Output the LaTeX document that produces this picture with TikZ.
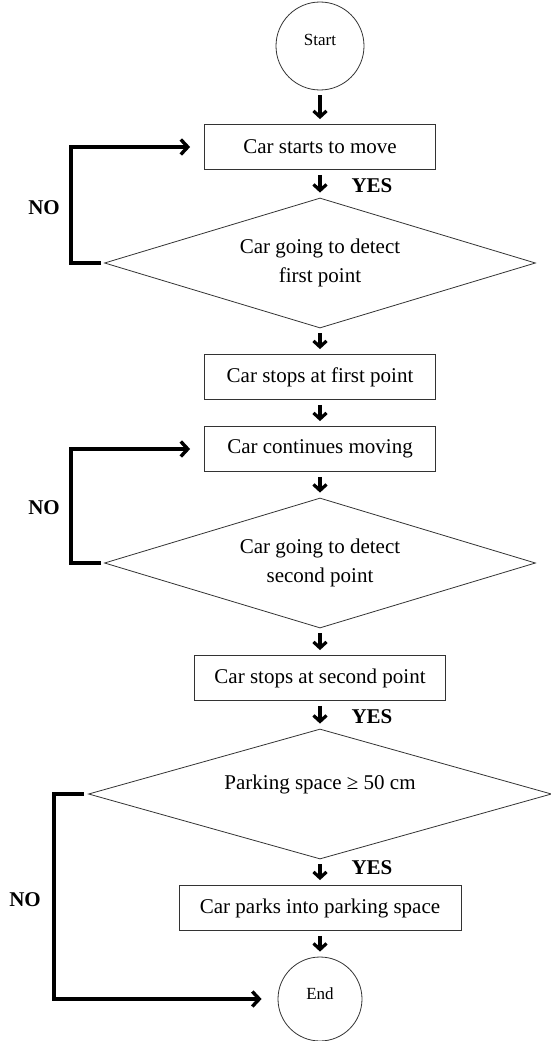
\documentclass[tikz,border=0pt]{standalone}
\usepackage{fontspec}
\setmainfont{Liberation Serif}
\usetikzlibrary{shapes.geometric,arrows.meta}
\tikzset{
  procbox/.style={
    draw=black!80,
    line width=0.8pt,
    minimum height=45pt,
    inner sep=0pt,
    font=\fontsize{21}{25}\selectfont
  },
  decision/.style={
    shape=diamond,
    draw=black!80,
    line width=0.8pt,
    shape aspect=3.3,
    minimum width=431pt,
    minimum height=130pt,
    inner sep=0pt,
    align=center,
    font=\fontsize{21}{29}\selectfont
  },
  terminal/.style={
    shape=circle,
    draw=black!80,
    line width=0.8pt,
    inner sep=0pt,
    text height=12pt,
    text depth=12pt,
    font=\fontsize{17}{20}\selectfont
  },
  flow/.style={
    line width=3.2pt,
    -{Straight Barb[length=6pt,width=13pt]},
    shorten <=5pt,
    shorten >=5pt
  },
  noloop/.style={
    line width=3.4pt,
    -{Straight Barb[length=7pt,width=15pt]}
  },
  answer/.style={
    inner sep=0pt,
    font=\fontsize{21}{25}\selectfont\bfseries
  }
}
\begin{document}
\begin{tikzpicture}[x=1pt,y=1pt]
        \useasboundingbox (0,0) rectangle (551,-1041);
        \node[terminal, minimum size=88pt] (start) at (320,-46) {Start};
        \node[procbox, minimum width=231pt] (move) at (320,-147) {Car starts to move};
        \node[decision] (detect1) at (320,-263) {Car going to detect\\first point};
        \node[procbox, minimum width=231pt] (stop1) at (320,-377) {Car stops at first point};
        \node[procbox, minimum width=231pt] (cont) at (320,-449) {Car continues moving};
        \node[decision] (detect2) at (320,-563) {Car going to detect\\second point};
        \node[procbox, minimum width=251pt] (stop2) at (320,-678) {Car stops at second point};
        \node[decision, minimum width=463pt, text height=14pt, text depth=24pt] (space) at (320,-794) {Parking space ≥ 50 cm};
        \node[procbox, minimum width=282pt] (park) at (320,-908) {Car parks into parking space};
        \node[terminal, minimum size=84pt] (end) at (320,-999) {End};
        %
        \draw[flow] (start) -- (move);
        \draw[flow] (move) -- (detect1);
        \draw[flow] (detect1) -- (stop1);
        \draw[flow] (stop1) -- (cont);
        \draw[flow] (cont) -- (detect2);
        \draw[flow] (detect2) -- (stop2);
        \draw[flow] (stop2) -- (space);
        \draw[flow] (space) -- (park);
        \draw[flow] (park) -- (end);
        %
        \draw[noloop] ([xshift=-3pt]detect1.west) -- ++(-30,0) |- ([xshift=-14pt]move.west);
        \draw[noloop] ([xshift=-3pt]detect2.west) -- ++(-30,0) |- ([xshift=-14pt]cont.west);
        \draw[noloop] ([xshift=-4pt]space.west) -- ++(-30,0) |- ([xshift=-16pt]end.west);
        %
        \node[answer] (yes1) at (372,-186) {YES};
        \node[answer] (yes2) at (372,-717) {YES};
        \node[answer] (yes3) at (372,-868) {YES};
        \node[answer] (no1) at (44,-208) {NO};
        \node[answer] (no2) at (44,-508) {NO};
        \node[answer] (no3) at (25,-900) {NO};
    \end{tikzpicture}
\end{document}
